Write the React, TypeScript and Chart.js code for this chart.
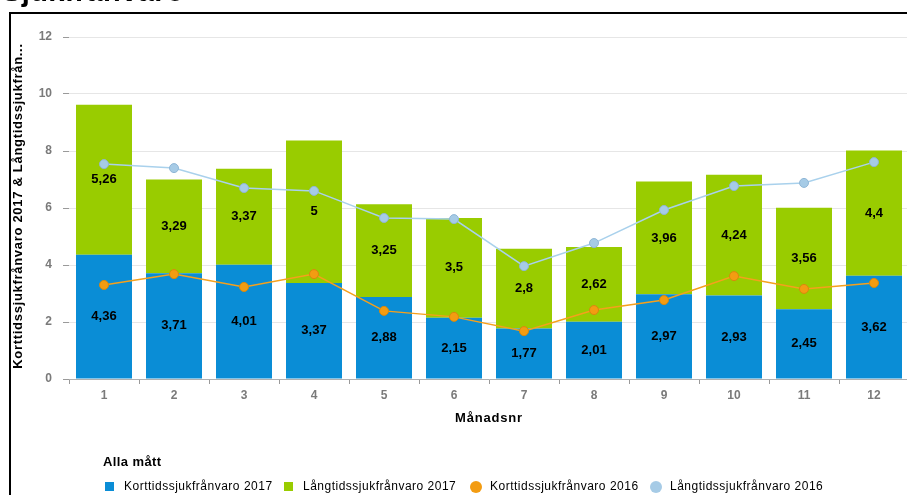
import React, { useEffect, useRef } from 'react';
import { Chart, registerables } from 'chart.js';

Chart.register(...registerables);

const months = ['1', '2', '3', '4', '5', '6', '7', '8', '9', '10', '11', '12'];
const kort2017 = [4.36, 3.71, 4.01, 3.37, 2.88, 2.15, 1.77, 2.01, 2.97, 2.93, 2.45, 3.62];
const lang2017 = [5.26, 3.29, 3.37, 5, 3.25, 3.5, 2.8, 2.62, 3.96, 4.24, 3.56, 4.4];
const kort2016 = [3.3, 3.68, 3.23, 3.68, 2.39, 2.18, 1.68, 2.42, 2.77, 3.61, 3.16, 3.37];
const lang2016 = [7.54, 7.4, 6.7, 6.6, 5.65, 5.61, 3.96, 4.77, 5.93, 6.77, 6.88, 7.61];
const seriesNames = [
  'Korttidssjukfrånvaro 2017',
  'Långtidssjukfrånvaro 2017',
  'Korttidssjukfrånvaro 2016',
  'Långtidssjukfrånvaro 2016',
];
const pageTitle = 'Sjukfrånvaro';
const yTitle = 'Korttidssjukfrånvaro 2017 & Långtidssjukfrån...';
const xTitle = 'Månadsnr';
const legendTitle = 'Alla mått';

const COLORS = {
  blue: '#0a8dd6',
  green: '#99cc00',
  orange: '#f5a01c',
  orangePt: '#f39c12',
  orangeBorder: '#d9890c',
  lblue: '#a9d1ec',
  lbluePt: '#a6cbe6',
  lblueBorder: '#8fb6d6',
};

const W = 930;
const H = 495;

const fmt = (v: number) => String(v).replace('.', ',');

const valueLabels = {
  id: 'valueLabels',
  afterDatasetsDraw(chart: any) {
    const ctx = chart.ctx;
    ctx.save();
    ctx.font = 'bold 13px Arial';
    ctx.fillStyle = '#000';
    ctx.textAlign = 'center';
    ctx.textBaseline = 'middle';
    [0, 1].forEach((di) => {
      const meta = chart.getDatasetMeta(di);
      const data = chart.data.datasets[di].data as number[];
      meta.data.forEach((el: any, i: number) => {
        const cy = (el.y + el.base) / 2;
        ctx.fillText(fmt(data[i]), el.x, cy);
      });
    });
    ctx.restore();
  },
};

const decorations = {
  id: 'decorations',
  afterDraw(chart: any) {
    const ctx = chart.ctx;
    const ca = chart.chartArea;
    ctx.save();
    // page title (cut off at top)
    ctx.fillStyle = '#000';
    ctx.font = 'bold 29px Arial';
    (ctx as any).letterSpacing = '0.4px';
    ctx.textAlign = 'left';
    ctx.textBaseline = 'alphabetic';
    ctx.fillText(pageTitle, 2, 1);
    // frame
    ctx.strokeStyle = '#000';
    ctx.lineWidth = 2;
    ctx.beginPath();
    ctx.moveTo(10, H + 10);
    ctx.lineTo(10, 13);
    ctx.lineTo(W + 10, 13);
    ctx.stroke();
    // y title
    ctx.save();
    ctx.translate(18, 206);
    ctx.rotate(-Math.PI / 2);
    ctx.font = 'bold 13px Arial';
    (ctx as any).letterSpacing = '0.7px';
    ctx.textAlign = 'center';
    ctx.textBaseline = 'middle';
    ctx.fillText(yTitle, 0, 0);
    ctx.restore();
    // x title
    ctx.font = 'bold 13px Arial';
    (ctx as any).letterSpacing = '0.8px';
    ctx.textAlign = 'center';
    ctx.textBaseline = 'middle';
    ctx.fillText(xTitle, (ca.left + ca.right) / 2, 418);
    // legend
    ctx.textAlign = 'left';
    ctx.font = 'bold 13px Arial';
    (ctx as any).letterSpacing = '0.4px';
    ctx.fillText(legendTitle, 103, 462);
    ctx.font = '12px Arial';
    (ctx as any).letterSpacing = '0.5px';
    const ly = 487;
    const markerX = [105, 284, 470, 650];
    const kinds = ['rect', 'rect', 'circle', 'circle'];
    const fills = [COLORS.blue, COLORS.green, COLORS.orangePt, COLORS.lbluePt];
    seriesNames.forEach((name, i) => {
      const mx = markerX[i];
      ctx.fillStyle = fills[i];
      if (kinds[i] === 'rect') {
        ctx.fillRect(mx, ly - 5, 9, 9);
        ctx.fillStyle = '#000';
        ctx.fillText(name, mx + 19, ly);
      } else {
        ctx.beginPath();
        ctx.arc(mx + 6, ly, 6, 0, Math.PI * 2);
        ctx.fill();
        ctx.fillStyle = '#000';
        ctx.fillText(name, mx + 20, ly);
      }
    });
    ctx.restore();
  },
};

export default function App() {
  const ref = useRef<HTMLCanvasElement | null>(null);
  useEffect(() => {
    document.body.style.margin = '0';
    document.body.style.overflow = 'hidden';
    const canvas = ref.current!;
    const chart = new Chart(canvas, {
      type: 'bar',
      data: {
        labels: months,
        datasets: [
          {
            type: 'bar',
            label: seriesNames[0],
            data: kort2017,
            backgroundColor: COLORS.blue,
            stack: 'bars',
            order: 2,
            barPercentage: 0.8,
            categoryPercentage: 1,
          },
          {
            type: 'bar',
            label: seriesNames[1],
            data: lang2017,
            backgroundColor: COLORS.green,
            stack: 'bars',
            order: 2,
            barPercentage: 0.8,
            categoryPercentage: 1,
          },
          {
            type: 'line',
            label: seriesNames[2],
            data: kort2016,
            borderColor: COLORS.orange,
            borderWidth: 1.5,
            backgroundColor: COLORS.orangePt,
            pointBackgroundColor: COLORS.orangePt,
            pointBorderColor: COLORS.orangeBorder,
            pointBorderWidth: 1,
            pointRadius: 4.5,
            stack: 'l1',
            order: 1,
            tension: 0,
          },
          {
            type: 'line',
            label: seriesNames[3],
            data: lang2016,
            borderColor: COLORS.lblue,
            borderWidth: 1.5,
            backgroundColor: COLORS.lbluePt,
            pointBackgroundColor: COLORS.lbluePt,
            pointBorderColor: COLORS.lblueBorder,
            pointBorderWidth: 1,
            pointRadius: 4.5,
            stack: 'l2',
            order: 0,
            tension: 0,
          },
        ] as any,
      },
      options: {
        responsive: false,
        animation: false,
        devicePixelRatio: 1,
        layout: { padding: { left: 0, top: 37, right: W - 909, bottom: 0 } },
        plugins: {
          legend: { display: false },
          tooltip: { enabled: false },
          title: { display: false },
        },
        scales: {
          x: {
            stacked: true,
            afterFit: (s: any) => {
              s.height = H - 379;
            },
            grid: {
              display: true,
              drawOnChartArea: false,
              offset: true,
              tickLength: 5,
              tickColor: '#9a9a9a',
            },
            border: { display: true, color: '#b0b0b0' },
            ticks: {
              color: '#7a7a7a',
              font: { family: 'Arial', size: 12, weight: 'bold' },
              padding: 4,
            },
          },
          y: {
            stacked: true,
            min: 0,
            max: 12,
            afterFit: (s: any) => {
              s.width = 69;
            },
            grid: {
              color: '#e6e6e6',
              tickColor: '#9a9a9a',
              tickLength: 6,
            },
            border: { display: false },
            ticks: {
              stepSize: 2,
              color: '#7a7a7a',
              font: { family: 'Arial', size: 12, weight: 'bold' },
              padding: 11,
            },
          },
        },
      },
      plugins: [valueLabels, decorations],
    });
    return () => chart.destroy();
  }, []);
  return (
    <div style={{ position: 'relative', width: 907, height: 495, overflow: 'hidden' }}>
      <canvas
        ref={ref}
        width={W}
        height={H}
        style={{ position: 'absolute', left: 0, top: 0, width: W, height: H }}
      />
    </div>
  );
}
